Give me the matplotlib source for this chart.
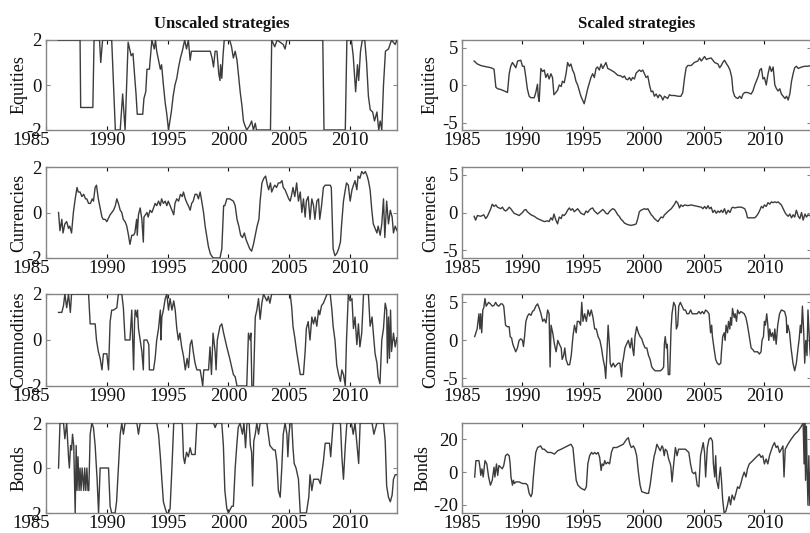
import matplotlib
matplotlib.use('Agg')
import matplotlib.pyplot as plt

# ---------------- data ----------------
col_titles = ['Unscaled strategies', 'Scaled strategies']
row_labels = ['Equities', 'Currencies', 'Commodities', 'Bonds']
year_ticks = [1985, 1990, 1995, 2000, 2005, 2010]

eq_u_t = [1986.0, 1987.8, 1987.85, 1988.85, 1988.95, 1989.4, 1989.5, 1989.65, 1990.4, 1990.7, 1991.1, 1991.3,
          1991.5, 1991.75, 1992.0, 1992.15, 1992.3, 1992.4, 1992.5, 1992.95, 1993.05, 1993.2, 1993.3, 1993.5,
          1993.7, 1993.9, 1994.0, 1994.1, 1994.4, 1994.5, 1994.65, 1994.8, 1994.93, 1995.07, 1995.3, 1995.45,
          1995.6, 1995.75, 1995.9, 1996.05, 1996.2, 1996.4, 1996.55, 1996.7, 1996.85, 1996.95, 1998.5, 1998.65,
          1998.77, 1998.9, 1999.05, 1999.2, 1999.3, 1999.35, 1999.45, 1999.55, 1999.65, 2000.1, 2000.25, 2000.4,
          2000.55, 2000.7, 2000.85, 2000.96, 2001.1, 2001.23, 2001.35, 2001.5, 2001.75, 2001.9, 2002.05, 2002.2,
          2002.3, 2003.45, 2003.55, 2003.8, 2004.0, 2004.5, 2004.65, 2004.8, 2007.75, 2007.85, 2009.6, 2009.73,
          2010.1, 2010.25, 2010.35, 2010.45, 2010.6, 2010.7, 2010.85, 2011.0, 2011.2, 2011.35, 2011.5, 2011.65,
          2011.85, 2012.0, 2012.2, 2012.35, 2012.47, 2012.6, 2012.74, 2012.9, 2013.15, 2013.4, 2013.7, 2013.85]
eq_u_v = [2, 2, -1, -1, 2, 2, 1.0, 2, 2, -2, -2, -0.4,
          -2, 1.9, 1.3, 1.4, 0.3, -0.4, -1.3, -1.3, -0.6, -0.3, 0.7, 0.7,
          2.0, 1.6, 2.0, 1.5, 0.7, 0.9, 0.0, -0.8, -1.3, -2.0, -1.2, -0.5,
          0.0, 0.3, 0.8, 1.2, 1.5, 2.0, 1.6, 2.0, 1.1, 1.5, 1.5, 1.2,
          0.8, 1.5, 1.5, 0.5, 0.2, 0.9, 0.3, 1.3, 2.0, 2.0, 1.7, 1.2,
          1.5, 1.1, 0.3, -0.3, -0.9, -1.6, -1.8, -2.0, -1.8, -1.6, -2.0, -1.7,
          -2.0, -2.0, 2.0, 1.7, 2.0, 1.8, 1.6, 2.0, 2.0, -2.0, -2.0, 2.0,
          2.0, 1.3, 0.5, -0.3, 0.9, 0.2, 1.5, 2.0, 2.0, 1.0, -0.5, -1.1,
          -1.2, -1.6, -1.2, -2.0, -1.6, -2.0, 0.0, 1.5, 1.6, 2.0, 1.8, 2.0]

cur_u_t = [1986.03, 1986.15, 1986.3, 1986.4, 1986.55, 1986.7, 1986.85, 1986.95, 1987.1, 1987.25, 1987.4, 1987.55,
           1987.65, 1987.8, 1987.95, 1988.1, 1988.25, 1988.35, 1988.5, 1988.65, 1988.8, 1988.9, 1989.04, 1989.15,
           1989.3, 1989.45, 1989.6, 1989.7, 1989.86, 1990.0, 1990.27, 1990.55, 1990.7, 1990.82, 1990.95, 1991.1,
           1991.23, 1991.35, 1991.5, 1991.64, 1991.78, 1991.9, 1992.05, 1992.2, 1992.3, 1992.45, 1992.5, 1992.6,
           1992.74, 1992.88, 1993.0, 1993.05, 1993.3, 1993.4, 1993.55, 1993.7, 1993.84, 1993.97, 1994.1, 1994.25,
           1994.4, 1994.5, 1994.65, 1994.8, 1994.93, 1995.05, 1995.2, 1995.35, 1995.5, 1995.6, 1995.75, 1995.9,
           1996.05, 1996.2, 1996.3, 1996.45, 1996.6, 1996.7, 1996.85, 1996.97, 1997.1, 1997.25, 1997.4, 1997.53,
           1997.67, 1997.8, 1997.95, 1998.08, 1998.2, 1998.35, 1998.5, 1998.6, 1998.75, 1999.3, 1999.45, 1999.6,
           1999.7, 1999.86, 2000.1, 2000.4, 2000.55, 2000.7, 2000.85, 2001.0, 2001.15, 2001.3, 2001.45, 2001.6,
           2001.75, 2001.9, 2002.05, 2002.2, 2002.35, 2002.5, 2002.6, 2002.75, 2002.9, 2003.05, 2003.2, 2003.3,
           2003.45, 2003.55, 2003.7, 2003.8, 2003.95, 2004.1, 2004.25, 2004.4, 2004.5, 2004.65, 2004.8, 2004.95,
           2005.07, 2005.2, 2005.3, 2005.45, 2005.6, 2005.75, 2005.9, 2006.03, 2006.16, 2006.3, 2006.4, 2006.55,
           2006.7, 2006.85, 2006.99, 2007.1, 2007.26, 2007.4, 2007.5, 2007.65, 2007.8, 2007.95, 2008.36, 2008.45,
           2008.6, 2008.75, 2008.9, 2009.05, 2009.2, 2009.3, 2009.45, 2009.6, 2009.7, 2009.85, 2010.0, 2010.15,
           2010.27, 2010.4, 2010.55, 2010.65, 2010.8, 2010.95, 2011.1, 2011.25, 2011.4, 2011.5, 2011.64, 2011.78,
           2011.9, 2012.05, 2012.2, 2012.3, 2012.47, 2012.6, 2012.74, 2012.85, 2013.0, 2013.15, 2013.3, 2013.45,
           2013.56, 2013.7, 2013.85]
cur_u_v = [0.0, -0.8, -0.3, -0.9, -0.5, -0.4, -0.7, -0.6, -0.9, 0.0, 0.6, 1.1,
           0.9, 0.9, 0.7, 0.8, 0.6, 0.6, 0.4, 0.4, 0.6, 0.5, 1.1, 1.2,
           0.6, 0.2, -0.2, -0.3, -0.3, -0.4, -0.1, 0.1, 0.3, 0.6, 0.4, 0.1,
           0.0, -0.3, -0.4, -0.6, -1.0, -1.4, -1.0, -1.0, -0.9, -0.3, -1.0, -0.1,
           0.2, -0.3, -1.3, -0.2, 0.0, -0.2, 0.1, 0.0, 0.2, 0.4, 0.3, 0.5,
           0.3, 0.6, 0.4, 0.5, 0.3, 0.5, 0.3, 0.1, -0.1, 0.4, 0.6, 0.5,
           0.8, 0.7, 0.9, 0.6, 0.4, 0.3, 0.1, 0.4, 0.5, 0.8, 0.8, 0.6,
           0.9, 0.5, 0.0, -0.6, -1.0, -1.5, -1.8, -1.9, -2.0, -2.0, -1.6, 0.3,
           0.3, 0.6, 0.6, 0.5, 0.3, -0.3, -0.6, -1.0, -1.1, -0.9, -1.2, -1.4,
           -1.6, -1.7, -1.4, -1.0, -0.6, -0.3, 0.5, 1.3, 1.5, 1.6, 1.2, 1.0,
           1.3, 0.9, 1.1, 1.2, 1.1, 1.3, 1.3, 1.4, 1.1, 1.0, 0.8, 0.6,
           0.5, 0.8, 1.1, 0.7, 1.3, 0.5, 0.9, 0.0, 0.6, -0.2, 0.5, 0.7,
           -0.3, 0.6, 0.3, -0.3, 0.5, 0.6, -0.3, 0.3, 1.1, 1.2, 1.2, 1.1,
           -1.6, -1.9, -1.8, -1.6, -1.3, -0.5, 0.5, 1.0, 1.3, 1.2, 0.5, 1.0,
           1.2, 1.4, 1.0, 1.6, 1.5, 1.8, 1.7, 1.8, 1.6, 1.4, 1.0, 0.1,
           -0.5, -0.7, -0.9, -0.6, -1.0, -0.5, 0.6, -1.1, 0.5, -0.5, 0.1, -0.2,
           -0.9, -0.6, -0.8]

com_u_t = [1986.03, 1986.3, 1986.44, 1986.55, 1986.7, 1986.85, 1987.0, 1987.1, 1988.5, 1988.63, 1989.04, 1989.15,
           1989.3, 1989.45, 1989.6, 1989.72, 1990.0, 1990.14, 1990.27, 1990.4, 1990.55, 1990.82, 1990.95, 1991.23,
           1991.36, 1991.5, 1991.9, 1992.05, 1992.2, 1992.28, 1992.33, 1992.47, 1992.52, 1992.6, 1992.74, 1992.88,
           1993.0, 1993.05, 1993.3, 1993.45, 1993.5, 1993.84, 1993.97, 1994.1, 1994.25, 1994.4, 1994.45, 1994.52,
           1994.65, 1994.8, 1994.93, 1995.07, 1995.2, 1995.35, 1995.5, 1995.62, 1995.75, 1995.88, 1996.0, 1996.15,
           1996.3, 1996.45, 1996.6, 1996.72, 1996.85, 1996.98, 1997.1, 1997.25, 1997.4, 1997.67, 1997.8, 1997.88,
           1997.97, 1998.36, 1998.48, 1998.6, 1998.73, 1998.9, 1998.98, 1999.08, 1999.3, 1999.45, 1999.6, 1999.86,
           2000.1, 2000.4, 2000.55, 2000.7, 2001.5, 2001.64, 2001.78, 2001.84, 2001.92, 2002.05, 2002.2, 2002.33,
           2002.47, 2002.6, 2002.74, 2002.88, 2003.15, 2003.28, 2003.4, 2003.55, 2005.07, 2005.2, 2005.3, 2005.45,
           2005.6, 2005.75, 2005.9, 2006.16, 2006.3, 2006.4, 2006.55, 2006.7, 2006.85, 2006.99, 2007.12, 2007.26,
           2007.4, 2007.5, 2007.65, 2007.8, 2008.1, 2008.36, 2008.5, 2008.6, 2008.75, 2008.9, 2009.05, 2009.2,
           2009.32, 2009.45, 2009.6, 2009.7, 2009.85, 2010.0, 2010.15, 2010.27, 2010.4, 2010.55, 2010.68, 2010.8,
           2010.95, 2011.1, 2011.5, 2011.64, 2011.8, 2011.92, 2012.05, 2012.2, 2012.3, 2012.45, 2012.6, 2012.74,
           2012.88, 2013.0, 2013.06, 2013.15, 2013.23, 2013.32, 2013.4, 2013.56, 2013.7, 2013.85]
com_u_v = [1.2, 1.2, 1.5, 2.0, 1.4, 2.0, 1.2, 2.0, 2.0, 0.7, 0.7, 0.0,
           -0.5, -0.8, -1.3, -0.6, -0.6, -1.3, 0.8, 1.3, 1.3, 1.4, 2.0, 2.0,
           1.4, 0.0, 0.0, 1.3, -1.3, 0.8, 1.3, 1.0, 1.3, 0.5, 0.0, -0.5,
           -1.3, 0.0, 0.0, -0.2, -1.3, -1.3, -0.8, 0.0, 0.5, 1.3, 0.0, 1.0,
           1.3, 1.8, 2.0, 1.3, 1.8, 1.3, 1.7, 1.3, 0.5, 0.0, 0.3, -0.3,
           -0.7, -1.3, -0.8, -1.2, -0.2, 0.0, -0.5, -1.0, -1.3, -1.3, -1.7, -2.0,
           -1.3, -1.3, -0.3, -1.5, 0.3, -0.5, -1.3, 0.0, 0.6, 0.7, 0.3, -0.3,
           -0.8, -1.5, -1.6, -2.0, -2.0, 0.3, 0.0, 0.3, -2.0, -2.0, 1.0, 1.3,
           1.8, 0.9, 1.6, 2.0, 1.7, 1.9, 1.6, 2.0, 2.0, 1.4, 0.6, 0.1,
           -0.5, -1.0, -1.5, -1.5, -0.5, 0.5, 0.8, 0.0, 1.0, 0.7, 1.0, 0.6,
           1.3, 1.1, 1.5, 1.6, 2.0, 2.0, 1.3, 0.6, 0.0, -1.1, -1.5, -1.8,
           -1.3, -1.5, -2.0, 0.0, 2.0, 1.7, 1.8, 0.5, 1.0, -0.2, 0.7, -0.3,
           0.3, 2.0, 2.0, 0.6, 1.0, 0.2, -0.6, -1.0, -1.6, -1.9, 0.0, 0.5,
           1.6, 1.3, -1.0, 1.0, -0.8, 1.3, -0.5, 0.3, -0.3, 0.1]

bond_u_t = [1986.03, 1986.15, 1986.44, 1986.55, 1986.7, 1986.85, 1986.92, 1987.02, 1987.1, 1987.18, 1987.28, 1987.4,
            1987.48, 1987.55, 1987.63, 1987.72, 1987.8, 1987.88, 1987.97, 1988.1, 1988.18, 1988.27, 1988.36, 1988.45,
            1988.52, 1988.63, 1988.77, 1988.9, 1989.04, 1989.2, 1989.32, 1989.45, 1990.14, 1990.27, 1990.4, 1990.68,
            1990.8, 1990.95, 1991.1, 1991.23, 1991.36, 1991.5, 1992.47, 1992.6, 1992.74, 1994.1, 1994.25, 1994.4,
            1994.52, 1994.65, 1994.8, 1994.93, 1995.07, 1995.2, 1995.35, 1995.5, 1996.2, 1996.3, 1996.4, 1996.55,
            1996.7, 1996.85, 1996.98, 1997.26, 1997.4, 1998.77, 1998.9, 1999.04, 1999.45, 1999.58, 1999.7, 1999.86,
            1999.99, 2000.27, 2000.4, 2000.55, 2000.68, 2000.8, 2000.95, 2001.15, 2001.27, 2001.4, 2001.52, 2001.7,
            2001.8, 2001.9, 2001.98, 2002.08, 2002.2, 2002.33, 2002.47, 2002.6, 2003.15, 2003.4, 2003.7, 2003.84,
            2003.97, 2004.1, 2004.25, 2004.38, 2004.5, 2004.65, 2004.8, 2004.88, 2004.97, 2005.07, 2005.2, 2005.3,
            2005.4, 2005.55, 2005.75, 2005.9, 2006.4, 2006.6, 2006.7, 2006.85, 2007.0, 2007.4, 2007.55, 2007.8,
            2007.95, 2008.3, 2008.4, 2008.6, 2009.2, 2009.32, 2009.45, 2009.6, 2009.73, 2010.1, 2010.25, 2010.4,
            2010.7, 2010.82, 2011.8, 2011.95, 2012.2, 2012.74, 2012.88, 2013.0, 2013.15, 2013.3, 2013.45, 2013.56,
            2013.7, 2013.85]
bond_u_v = [0.0, 2.0, 2.0, 1.3, 2.0, 0.5, 0.0, 1.0, 0.8, 1.5, 1.0, -2.0,
            1.0, -1.0, 0.5, -1.0, 0.0, -1.0, 0.0, -1.0, 0.0, -1.0, 0.0, -1.0,
            -1.0, 1.5, 2.0, 1.8, 1.0, -0.5, -2.0, 0.0, 0.0, -1.7, -2.0, -2.0,
            -1.5, 0.0, 1.5, 2.0, 1.5, 2.0, 2.0, 1.5, 2.0, 2.0, 1.5, 0.5,
            -0.5, -1.5, -1.8, -2.0, -2.0, -1.8, 0.0, 2.0, 2.0, 0.5, 0.2, 0.7,
            0.5, 0.9, 0.6, 0.6, 2.0, 2.0, 1.8, 2.0, 2.0, 1.0, -1.0, -1.8,
            -2.0, -1.7, -1.7, 0.0, 1.0, 1.8, 2.0, 1.5, 2.0, 0.9, 2.0, 2.0,
            1.0, 0.7, -0.8, 1.2, 1.5, 2.0, 1.5, 2.0, 2.0, 1.0, 0.8, 0.8,
            0.3, -1.0, -1.3, 0.0, 1.5, 2.0, 1.5, 0.5, 1.5, 2.0, 2.0, 0.9,
            0.2, 0.0, -0.5, -2.0, -2.0, -1.3, -0.3, -1.0, -0.5, -0.5, -0.7, 0.3,
            1.1, 1.1, 0.5, 2.0, 2.0, 0.5, -0.5, 1.0, 2.0, 2.0, 1.5, 2.0,
            0.2, 2.0, 2.0, 1.5, 2.0, 2.0, 1.2, -0.8, -1.3, -1.5, -1.2, -0.5,
            -0.3, -0.3]

eq_s_t = [1986.0, 1986.27, 1986.55, 1986.8, 1987.1, 1987.4, 1987.65, 1987.8, 1987.95, 1988.2, 1988.5, 1988.76,
          1988.9, 1989.03, 1989.17, 1989.45, 1989.6, 1989.86, 1990.0, 1990.14, 1990.28, 1990.4, 1990.55, 1990.7,
          1990.97, 1991.1, 1991.24, 1991.3, 1991.38, 1991.52, 1991.66, 1991.8, 1991.93, 1992.07, 1992.2, 1992.35,
          1992.48, 1992.6, 1992.76, 1992.9, 1993.04, 1993.2, 1993.3, 1993.45, 1993.6, 1993.73, 1993.87, 1994.0,
          1994.14, 1994.28, 1994.42, 1994.56, 1994.7, 1994.83, 1994.97, 1995.1, 1995.25, 1995.39, 1995.52, 1995.66,
          1995.8, 1995.94, 1996.08, 1996.2, 1996.35, 1996.5, 1996.63, 1996.77, 1996.9, 1997.05, 1997.3, 1997.6,
          1997.87, 1998.15, 1998.29, 1998.43, 1998.56, 1998.7, 1998.84, 1998.98, 1999.1, 1999.25, 1999.4, 1999.53,
          1999.66, 1999.8, 1999.94, 2000.08, 2000.22, 2000.36, 2000.5, 2000.64, 2000.77, 2000.9, 2001.05, 2001.2,
          2001.32, 2001.46, 2001.6, 2001.74, 2002.0, 2002.15, 2002.3, 2002.57, 2002.85, 2003.1, 2003.25, 2003.4,
          2003.53, 2003.67, 2003.95, 2004.2, 2004.5, 2004.64, 2004.78, 2005.05, 2005.2, 2005.33, 2005.6, 2005.74,
          2005.88, 2006.16, 2006.3, 2006.43, 2006.56, 2006.7, 2006.84, 2007.0, 2007.15, 2007.3, 2007.4, 2007.54,
          2007.67, 2007.8, 2007.95, 2008.1, 2008.23, 2008.37, 2008.6, 2008.9, 2009.05, 2009.2, 2009.33, 2009.5,
          2009.62, 2009.75, 2009.88, 2010.0, 2010.15, 2010.3, 2010.44, 2010.58, 2010.72, 2010.86, 2011.0, 2011.13,
          2011.27, 2011.4, 2011.55, 2011.7, 2011.83, 2011.96, 2012.1, 2012.24, 2012.37, 2012.5, 2012.64, 2012.8,
          2013.07, 2013.35, 2013.6, 2013.85]
eq_s_v = [3.2, 2.8, 2.6, 2.5, 2.4, 2.3, 2.1, -0.3, -0.5, -0.6, -0.8, -1.0,
          1.5, 2.5, 3.0, 2.3, 3.2, 3.3, 2.5, 2.5, 1.0, -0.5, -1.5, -1.7,
          -1.7, -1.0, 0.1, -1.5, -2.2, 2.2, 1.8, 2.0, 1.0, 1.5, 0.8, 1.5,
          1.0, -1.3, -1.0, -0.7, 0.0, -0.2, 0.5, 0.3, 1.5, 3.0, 2.5, 2.8,
          2.0, 1.5, 0.5, 0.0, -0.8, -1.5, -2.0, -2.5, -1.5, -0.5, 0.2, 1.0,
          1.5, 1.0, 2.2, 2.4, 2.0, 2.8, 2.2, 2.6, 3.0, 2.2, 2.0, 1.7,
          1.3, 1.2, 1.0, 1.2, 0.8, 0.7, 1.0, 0.6, 1.0, 0.8, 1.6, 1.8,
          2.0, 1.8, 2.0, 1.5, 1.0, 1.2, 0.0, -0.9, -0.8, -1.5, -1.2, -1.7,
          -1.3, -1.5, -2.0, -1.5, -1.8, -1.3, -1.4, -1.4, -1.5, -1.5, -1.0, 1.0,
          2.3, 2.6, 2.6, 3.0, 3.2, 3.6, 3.2, 3.8, 3.4, 3.5, 3.6, 3.3,
          3.0, 2.8, 2.3, 2.6, 3.0, 3.3, 2.9, 2.5, 2.0, 1.0, -0.8, -1.5,
          -1.7, -1.8, -1.5, -1.8, -1.2, -1.0, -1.0, -1.2, -0.8, 0.0, 0.5, 1.2,
          2.0, 2.2, 0.8, 1.0, 0.0, 1.5, 2.5, 1.8, 2.4, 0.0, -0.5, -0.8,
          -0.5, -1.2, -1.5, -1.8, -1.5, -2.0, -1.2, 0.5, 1.5, 2.3, 2.5, 2.2,
          2.4, 2.5, 2.5, 2.6]

cur_s_t = [1986.0, 1986.13, 1986.27, 1986.55, 1986.8, 1986.96, 1987.1, 1987.24, 1987.38, 1987.5, 1987.65, 1987.8,
           1987.93, 1988.2, 1988.34, 1988.5, 1988.62, 1988.76, 1988.9, 1989.03, 1989.17, 1989.3, 1989.6, 1989.72,
           1989.86, 1990.0, 1990.14, 1990.28, 1990.4, 1990.55, 1990.7, 1990.97, 1991.24, 1991.52, 1991.8, 1992.07,
           1992.2, 1992.35, 1992.48, 1992.6, 1992.76, 1992.9, 1993.04, 1993.2, 1993.3, 1993.45, 1993.6, 1993.73,
           1993.87, 1994.0, 1994.14, 1994.28, 1994.42, 1994.56, 1994.7, 1994.83, 1995.1, 1995.25, 1995.39, 1995.52,
           1995.66, 1995.8, 1995.94, 1996.08, 1996.2, 1996.35, 1996.5, 1996.63, 1996.77, 1996.9, 1997.05, 1997.18,
           1997.3, 1997.45, 1997.6, 1997.73, 1997.87, 1998.0, 1998.15, 1998.29, 1998.43, 1998.7, 1998.98, 1999.25,
           1999.4, 1999.53, 1999.66, 1999.8, 1999.94, 2000.08, 2000.22, 2000.36, 2000.5, 2000.64, 2000.77, 2000.9,
           2001.05, 2001.2, 2001.32, 2001.46, 2001.6, 2001.74, 2001.88, 2002.0, 2002.15, 2002.3, 2002.43, 2002.57,
           2002.7, 2002.85, 2002.98, 2003.1, 2003.25, 2003.4, 2003.67, 2003.95, 2004.2, 2004.5, 2004.78, 2004.92,
           2005.05, 2005.2, 2005.33, 2005.46, 2005.6, 2005.74, 2005.88, 2006.02, 2006.16, 2006.3, 2006.43, 2006.56,
           2006.7, 2006.84, 2007.0, 2007.15, 2007.3, 2007.4, 2007.54, 2007.8, 2008.1, 2008.37, 2008.5, 2008.6,
           2008.9, 2009.2, 2009.33, 2009.5, 2009.62, 2009.75, 2009.88, 2010.0, 2010.15, 2010.3, 2010.44, 2010.58,
           2010.72, 2010.86, 2011.0, 2011.13, 2011.27, 2011.4, 2011.55, 2011.7, 2011.83, 2011.96, 2012.1, 2012.24,
           2012.37, 2012.5, 2012.64, 2012.8, 2012.93, 2013.07, 2013.2, 2013.35, 2013.48, 2013.6, 2013.85]
cur_s_v = [-0.5, -1.0, -0.4, -0.5, -0.3, -0.8, -0.5, 0.0, 0.5, 1.1, 0.8, 1.0,
           0.7, 0.5, 0.7, 0.3, 0.2, 0.4, 0.7, 0.5, 0.2, -0.1, -0.3, -0.4,
           -0.2, 0.0, 0.3, 0.4, 0.1, -0.1, -0.3, -0.5, -0.8, -1.0, -1.2, -1.1,
           -1.2, -0.7, -1.0, -0.2, -1.0, -1.5, -0.6, -0.8, -0.3, -0.4, -0.1, 0.3,
           0.6, 0.3, 0.5, 0.1, 0.3, 0.5, 0.2, -0.1, -0.3, 0.2, 0.0, 0.3,
           0.5, 0.6, 0.2, 0.0, -0.2, 0.0, 0.2, 0.4, 0.2, -0.1, -0.2, 0.1,
           0.3, 0.5, 0.4, 0.1, -0.3, -0.5, -0.9, -1.1, -1.4, -1.6, -1.7, -1.6,
           -1.5, -0.8, 0.1, 0.3, 0.4, 0.5, 0.4, 0.5, 0.1, -0.3, -0.5, -0.8,
           -1.0, -1.2, -0.9, -0.6, -0.7, -0.3, -0.1, 0.1, 0.3, 0.5, 0.8, 1.1,
           1.5, 1.2, 0.6, 1.0, 0.8, 1.0, 0.9, 1.0, 0.9, 0.8, 0.7, 0.5,
           0.8, 0.5, 0.9, 0.5, 0.7, 0.0, 0.3, -0.1, 0.2, 0.0, 0.3, 0.0,
           0.5, -0.2, 0.3, 0.0, 0.6, 0.7, 0.6, 0.7, 0.7, 0.5, 0.0, -0.7,
           -0.7, -0.7, -0.5, -0.1, 0.3, 0.8, 0.6, 1.0, 0.8, 1.3, 1.1, 1.4,
           1.3, 1.4, 1.3, 1.4, 1.2, 1.0, 0.5, 0.0, -0.3, -0.5, -0.2, -0.7,
           -0.3, -0.6, 0.3, -0.5, -0.8, 0.0, -1.0, -0.2, -0.6, -0.3, -0.5]

com_s_t = [1986.05, 1986.25, 1986.4, 1986.48, 1986.55, 1986.63, 1986.72, 1986.8, 1986.9, 1987.0, 1987.2, 1987.35,
           1987.5, 1987.65, 1987.78, 1987.92, 1988.05, 1988.2, 1988.33, 1988.45, 1988.6, 1988.75, 1988.9, 1988.98,
           1989.1, 1989.2, 1989.32, 1989.44, 1989.58, 1989.72, 1989.86, 1990.0, 1990.08, 1990.17, 1990.28, 1990.42,
           1990.55, 1990.7, 1990.83, 1990.97, 1991.1, 1991.25, 1991.39, 1991.53, 1991.67, 1991.8, 1991.94, 1992.08,
           1992.2, 1992.28, 1992.36, 1992.5, 1992.64, 1992.78, 1992.92, 1993.05, 1993.2, 1993.28, 1993.4, 1993.5,
           1993.6, 1993.75, 1993.9, 1994.03, 1994.17, 1994.3, 1994.44, 1994.53, 1994.67, 1994.8, 1994.9, 1995.0,
           1995.14, 1995.28, 1995.42, 1995.55, 1995.69, 1995.83, 1995.97, 1996.1, 1996.25, 1996.4, 1996.53, 1996.67,
           1996.8, 1996.88, 1997.0, 1997.08, 1997.2, 1997.25, 1997.35, 1997.5, 1997.64, 1997.78, 1997.92, 1998.05,
           1998.19, 1998.26, 1998.33, 1998.47, 1998.6, 1998.75, 1998.9, 1999.03, 1999.1, 1999.2, 1999.3, 1999.44,
           1999.58, 1999.72, 1999.86, 2000.0, 2000.14, 2000.28, 2000.42, 2000.55, 2000.69, 2000.83, 2000.97, 2001.1,
           2001.4, 2001.55, 2001.67, 2001.73, 2001.8, 2001.9, 2001.97, 2002.05, 2002.17, 2002.28, 2002.36, 2002.5,
           2002.64, 2002.72, 2002.83, 2002.92, 2003.05, 2003.19, 2003.33, 2003.47, 2003.6, 2003.75, 2003.9, 2004.03,
           2004.17, 2004.3, 2004.44, 2004.58, 2004.72, 2004.86, 2005.0, 2005.14, 2005.28, 2005.42, 2005.55, 2005.64,
           2005.7, 2005.83, 2005.97, 2006.1, 2006.25, 2006.39, 2006.45, 2006.55, 2006.67, 2006.75, 2006.83, 2006.95,
           2007.03, 2007.14, 2007.2, 2007.28, 2007.36, 2007.5, 2007.58, 2007.69, 2007.78, 2007.92, 2008.05, 2008.33,
           2008.47, 2008.6, 2008.75, 2008.9, 2009.03, 2009.17, 2009.44, 2009.58, 2009.72, 2009.8, 2009.92, 2010.0,
           2010.08, 2010.19, 2010.28, 2010.36, 2010.44, 2010.55, 2010.67, 2010.78, 2010.86, 2010.97, 2011.1, 2011.25,
           2011.4, 2011.67, 2011.8, 2011.86, 2011.94, 2012.08, 2012.2, 2012.36, 2012.5, 2012.64, 2012.78, 2012.86,
           2012.97, 2013.05, 2013.14, 2013.25, 2013.33, 2013.42, 2013.52, 2013.6, 2013.75, 2013.85]
com_s_v = [0.5, 1.5, 3.5, 1.5, 3.5, 1.0, 4.0, 4.3, 5.5, 4.5, 5.0, 4.8,
           4.5, 4.6, 5.0, 4.6, 4.5, 4.8, 4.8, 4.5, 2.0, 1.8, 1.8, 0.5,
           0.3, -0.5, -1.0, -1.5, -1.0, 0.0, 0.2, 0.0, -0.8, 0.5, 2.5, 3.2,
           3.5, 3.3, 3.8, 4.0, 4.5, 4.8, 4.2, 3.5, 2.5, 2.8, 2.3, 4.0,
           3.5, -3.5, 2.0, 1.0, -0.5, -1.5, 0.0, -0.5, -1.0, -2.5, -2.0, -1.0,
           -2.5, -3.2, -3.2, -2.0, 0.5, 2.0, 1.0, 2.5, 2.5, 2.0, 5.0, 2.5,
           3.5, 2.5, 4.0, 3.2, 4.0, 3.0, 1.5, 1.5, 0.5, 0.0, -1.0, -2.5,
           -3.5, -5.0, -1.0, 2.0, -1.0, -3.0, -3.5, -3.0, -3.5, -3.2, -3.0, -3.0,
           -4.8, -3.0, -2.5, -1.0, -0.5, 0.0, -1.0, 0.3, -1.0, -2.0, 0.5, 1.8,
           1.0, 0.5, 0.2, -0.5, -1.0, -1.0, -2.0, -2.5, -3.5, -3.8, -4.0, -4.0,
           -4.0, -3.8, -3.5, -0.5, 0.5, -1.0, -0.5, -4.5, -4.5, 1.5, 3.5, 5.0,
           4.5, 1.5, 2.0, 4.5, 5.0, 4.5, 4.0, 4.0, 3.5, 3.5, 4.0, 3.5,
           3.5, 3.5, 3.5, 3.8, 3.5, 3.8, 3.5, 4.0, 3.8, 3.5, 1.0, 2.0,
           0.5, -1.0, -2.5, -3.0, -3.2, -3.0, -1.5, 0.5, 1.0, 0.0, 2.0, 1.0,
           2.5, 1.5, 3.0, 2.0, 4.2, 3.0, 3.5, 2.5, 4.0, 3.5, 3.8, 3.5,
           3.0, 2.0, 0.5, -1.0, -1.2, -1.5, -1.5, -1.8, -1.5, 0.0, 0.5, 2.5,
           2.0, 3.5, 2.0, 0.0, 1.5, 0.5, 1.0, 0.0, 1.5, -0.5, 2.0, 3.5,
           4.0, 3.8, 3.0, 1.0, 2.0, 1.0, -1.0, -3.0, -4.0, -3.0, -1.0, 0.0,
           2.0, 1.0, 4.5, 1.0, -3.0, 0.0, -2.0, 4.0, -1.0, -3.0]

bond_s_t = [1986.05, 1986.15, 1986.4, 1986.5, 1986.55, 1986.65, 1986.75, 1986.9, 1987.05, 1987.2, 1987.35, 1987.5,
            1987.65, 1987.72, 1987.85, 1987.95, 1988.05, 1988.2, 1988.33, 1988.45, 1988.6, 1988.75, 1988.9, 1988.98,
            1989.05, 1989.17, 1989.25, 1989.33, 1989.45, 1989.72, 1990.0, 1990.28, 1990.42, 1990.55, 1990.7, 1990.8,
            1990.9, 1991.0, 1991.1, 1991.25, 1991.5, 1991.65, 1991.8, 1992.08, 1992.36, 1992.64, 1992.9, 1993.2,
            1993.47, 1993.75, 1994.0, 1994.17, 1994.3, 1994.44, 1994.58, 1994.86, 1995.14, 1995.28, 1995.4, 1995.55,
            1995.7, 1995.83, 1995.97, 1996.1, 1996.25, 1996.38, 1996.5, 1996.58, 1996.7, 1996.8, 1996.9, 1997.05,
            1997.2, 1997.35, 1997.5, 1997.78, 1998.05, 1998.33, 1998.6, 1998.75, 1998.88, 1999.0, 1999.17, 1999.3,
            1999.44, 1999.58, 1999.72, 1999.86, 2000.28, 2000.42, 2000.55, 2000.69, 2000.78, 2000.89, 2000.97, 2001.11,
            2001.25, 2001.39, 2001.53, 2001.61, 2001.72, 2001.8, 2001.94, 2002.08, 2002.22, 2002.27, 2002.36, 2002.5,
            2002.64, 2002.78, 2002.9, 2003.2, 2003.47, 2003.75, 2003.89, 2004.03, 2004.17, 2004.3, 2004.44, 2004.58,
            2004.72, 2004.86, 2004.94, 2005.05, 2005.14, 2005.28, 2005.42, 2005.56, 2005.7, 2005.78, 2005.89, 2005.97,
            2006.05, 2006.2, 2006.28, 2006.36, 2006.45, 2006.55, 2006.67, 2006.81, 2006.95, 2007.08, 2007.2, 2007.33,
            2007.5, 2007.64, 2007.78, 2007.92, 2008.05, 2008.19, 2008.33, 2008.47, 2008.6, 2008.75, 2008.9, 2009.03,
            2009.17, 2009.3, 2009.44, 2009.58, 2009.72, 2009.86, 2010.0, 2010.14, 2010.28, 2010.42, 2010.55, 2010.69,
            2010.83, 2010.97, 2011.1, 2011.25, 2011.4, 2011.53, 2011.62, 2011.72, 2011.8, 2011.94, 2012.2, 2012.5,
            2012.78, 2013.05, 2013.2, 2013.28, 2013.33, 2013.4, 2013.47, 2013.53, 2013.6, 2013.67, 2013.75, 2013.85]
bond_s_v = [-3, 7, 7, 2, -2, 2, -3, 7, 5, -3, -8, -5,
            3, -3, 5, -2, 4, 3, 2, 4, 10, 11, 10, 5,
            -3, -8, -5, -7, -6, -6, -7, -7, -8, -13, -15, -13,
            -3, 5, 12, 15, 16, 14, 14, 12, 12, 11, 13, 14,
            15, 16, 17, 15, 5, -5, -8, -10, -11, -9, 5, 10,
            12, 11, 12, 11, 12, 9, 1, 5, 4, 7, 5, 6,
            5, 12, 15, 15, 16, 17, 20, 21, 17, 15, 16, 14,
            10, 0, -8, -12, -13, -13, -8, 0, 5, 10, 12, 17,
            15, 13, 16, 15, 10, 14, 13, 8, 5, 3, -6, 5,
            15, 10, 14, 14, 14, 12, 5, 0, -1, 0, -8, -9,
            10, 15, 18, 12, -3, 15, 20, 21, 19, 5, -3, 10,
            -5, -10, -2, 3, -5, -17, -25, -24, -20, -15, -20, -14,
            -17, -13, -9, -10, -7, -3, 0, -3, 2, 5, 6, 7,
            8, 9, 10, 11, 9, 10, 5, 8, 5, 10, 13, 16,
            18, 15, 16, 12, 14, 16, -3, 14, 15, 17, 20, 23,
            25, 28, 30, 5, 30, -5, 28, 0, -20, 10, -20, 8]

# ---------------- layout ----------------
plt.rcParams['font.family'] = ['Liberation Serif', 'DejaVu Serif']
plt.rcParams['axes.unicode_minus'] = False

W, H = 810.0, 533.0
fig = plt.figure(figsize=(W / 100, H / 100), dpi=100)
fig.patch.set_facecolor('white')

row_px = [(40, 130), (167, 258), (294, 386), (423, 513)]
col_px = [(46, 397), (462, 811)]

left_series = [(eq_u_t, eq_u_v), (cur_u_t, cur_u_v), (com_u_t, com_u_v), (bond_u_t, bond_u_v)]
right_series = [(eq_s_t, eq_s_v), (cur_s_t, cur_s_v), (com_s_t, com_s_v), (bond_s_t, bond_s_v)]
left_ylim = [(-2, 2)] * 4
left_yticks = [[-2, 0, 2]] * 4
right_ylim = [(-6, 6), (-6, 6), (-6, 6.1), (-25, 30)]
right_yticks = [[-5, 0, 5], [-5, 0, 5], [-5, 0, 5], [-20, 0, 20]]
ylabel_x = [[-0.052] * 4, [-0.066, -0.066, -0.066, -0.086]]
first_label_shift_pt = [-10.8, 0]

line_color = '#3c3c3c'
spine_color = '#858585'
text_color = '#111111'
tick_fs = 13.5
xpad = 1.5

for c in range(2):
    series = left_series if c == 0 else right_series
    ylims = left_ylim if c == 0 else right_ylim
    yticks = left_yticks if c == 0 else right_yticks
    l, r = col_px[c]
    for i in range(4):
        t, b = row_px[i]
        ax = fig.add_axes([l / W, 1 - b / H, (r - l) / W, (b - t) / H])
        xs, ys = series[i]
        ax.plot(xs, ys, color=line_color, lw=1.0, zorder=3, clip_on=True)
        ax.set_xlim(1985, 2013.85)
        ax.set_ylim(*ylims[i])
        ax.set_xticks(year_ticks)
        ax.set_yticks(yticks[i])
        shift = first_label_shift_pt[c]
        if shift:
            ax.set_xticklabels([''] + [str(y) for y in year_ticks[1:]])
            ax.annotate(str(year_ticks[0]), xy=(year_ticks[0], 0), xycoords=('data', 'axes fraction'),
                        xytext=(shift, -xpad), textcoords='offset points', ha='center', va='top',
                        fontsize=tick_fs, color=text_color, annotation_clip=False)
        ax.tick_params(direction='in', length=3, width=0.8, color=spine_color,
                       top=True, right=True, labelsize=tick_fs, colors=text_color)
        ax.tick_params(axis='x', pad=xpad, colors=text_color)
        ax.tick_params(axis='y', pad=3)
        for s in ax.spines.values():
            s.set_color(spine_color)
            s.set_linewidth(1.0)
        ax.set_ylabel(row_labels[i], fontsize=13, color=text_color)
        ax.yaxis.set_label_coords(ylabel_x[c][i], 0.5)
        if i == 0:
            ax.set_title(col_titles[c], fontsize=12, fontweight='bold', pad=8.5, color=text_color)

fig.savefig('out.png', dpi=100, facecolor='white')
